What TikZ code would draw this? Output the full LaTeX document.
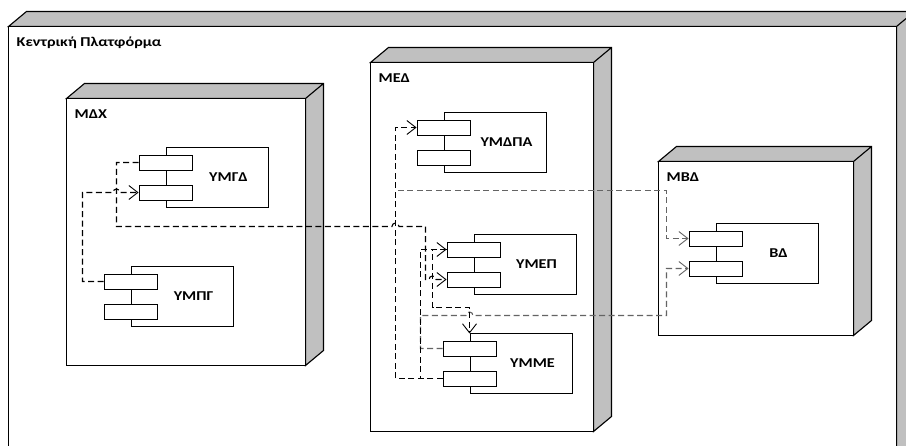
\documentclass[tikz,border=0pt]{standalone}
\usepackage{fontspec}
\setmainfont{Carlito}[FakeStretch=1.2]
\usetikzlibrary{arrows.meta,calc,fit}
\definecolor{sidegrey}{RGB}{192,192,192}
\definecolor{linkgrey}{RGB}{100,100,100}
\tikzset{
  side/.style={draw, fill=sidegrey, line width=1.1pt},
  front/.style={draw, fill=white, inner sep=0pt, line width=1.1pt},
  nodelbl/.style={font=\fontsize{13.5}{15}\selectfont\bfseries, inner sep=0pt, anchor=base west},
  compbox/.style={draw, fill=white, minimum width=102pt, minimum height=60pt, inner sep=0pt, line width=0.9pt},
  port/.style={draw, fill=white, minimum width=53pt, minimum height=15pt, inner sep=0pt, line width=0.9pt},
  complbl/.style={font=\fontsize{13.5}{15}\selectfont\bfseries, inner sep=0pt, anchor=base},
  dep/.style={draw=black, line width=1.1pt, dash pattern=on 6pt off 3.5pt, -{Straight Barb[length=9pt, width=14pt, line width=0.9pt]}},
  depgrey/.style={dep, draw=linkgrey, line width=1.1pt}
}
% 3d box: name, front x1, y1, x2, y2, label
\newcommand{\devnode}[6]{%
  \filldraw[side] (#2,#3) -- ++(18,-15) -- (#4+18,#3-15) -- (#4+18,#5-15) -- (#4,#5) -- (#4,#3) -- cycle
    (#4,#3) -- ++(18,-15);
  \node[front, fit={(#2,#3) (#4,#5)}] (#1) {};
  \node[nodelbl] (#1-lbl) at (#2+8,#3+20) {#6};}
% component with two ports: name, x, y (top left), label
\newcommand{\comp}[4]{%
  \node[compbox, anchor=north west] (#1) at (#2,#3) {};
  \node[port] (#1-p1) at (#2,#3+15) {};
  \node[port] (#1-p2) at (#2,#3+45) {};
  \node[complbl] (#1-lbl) at (#2+63,#3+34.5) {#4};}

\begin{document}
\begin{tikzpicture}[x=1pt, y=-1pt]
  % half-unit shift keeps 1pt lines on whole pixels
  \useasboundingbox (0.5,0.5) rectangle (906.5,446.5);
  \clip (0.5,0.5) rectangle (906.5,446.5);

  % nodes
  \devnode{plat}{9}{27}{897}{480}{Κεντρική Πλατφόρμα}
  \devnode{mdx}{67}{99}{306}{366}{ΜΔΧ}
  \devnode{med}{371}{63}{594}{432}{ΜΕΔ}
  \devnode{mbd}{659}{162}{854}{336}{ΜΒΔ}

  % components
  \comp{ymgd}{166}{148}{ΥΜΓΔ}
  \comp{ympg}{131}{267}{ΥΜΠΓ}
  \comp{ymdpa}{444}{113}{ΥΜΔΠΑ}
  \comp{ymep}{474}{235}{ΥΜΕΠ}
  \comp{ymme}{470}{334}{ΥΜΜΕ}
  \comp{bd}{716}{224}{ΒΔ}

  % dependencies
  \draw[depgrey] (ymme-p2.west) -| (396,191) -| (667,239) -- (bd-p1.west);
  \draw[depgrey] (ymme-p1.west) -| (421,316) -- (466.5,316)
    arc[start angle=180, end angle=360, radius=3.5] -- (667,316) |- (bd-p2.west);
  \draw[dep] (ympg-p1.west) -| (83,193) -- (113.5,193)
    arc[start angle=180, end angle=360, radius=3.5] -- (ymgd-p2.west);
  \draw[dep] (ymgd-p1.west) -| (117,227) -- (392.5,227)
    arc[start angle=180, end angle=360, radius=3.5] -- (426,227) -- (426,280) -- (429.5,280)
    arc[start angle=180, end angle=360, radius=3.5] -- (ymep-p2.west);
  \draw[dep] (ymme-p2.west) -| (396,128) -- (ymdpa-p1.west);
  \draw[dep] (ymme-p2.west) -| (421,250) -- (ymep-p1.west);
  \draw[dep] (ymep-p1.west) -- (433,250) -- (433,308) -| (ymme.north west);
\end{tikzpicture}
\end{document}
